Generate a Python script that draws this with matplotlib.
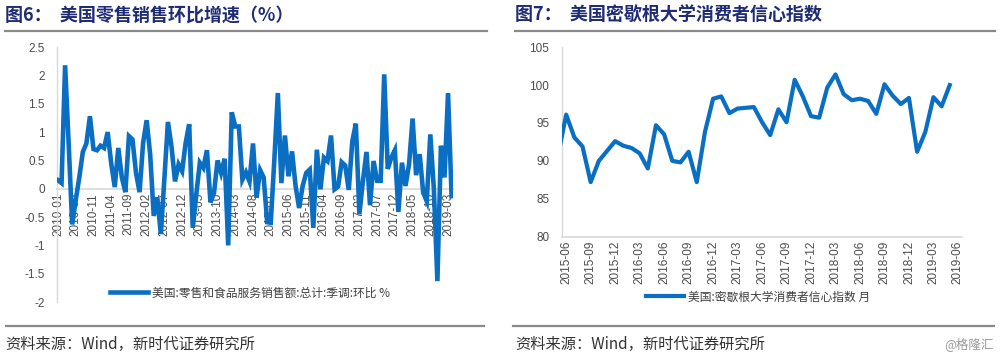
import numpy as np
import pandas as pd
import matplotlib
matplotlib.use('Agg')
import matplotlib.pyplot as plt
from matplotlib.lines import Line2D

plt.rcParams['font.family'] = ['Liberation Sans', 'Noto Sans CJK SC', 'DejaVu Sans']

# US retail & food services sales, m/m % (2010-01 .. 2019-04)
retail_start = '2010-01'
retail_mom = [0.15, 0.1, 2.18, 0.8, -0.63, -0.2, 0.2, 0.65, 0.8, 1.28,
              0.7, 0.68, 0.76, 0.72, 1.0, 0.45, 0.03, 0.72, 0.2, -0.06,
              0.93, 0.87, 0.28, -0.06, 0.81, 1.21, 0.6, -0.48, -0.15, -0.8,
              0.18, 1.18, 0.75, 0.13, 0.43, 0.31, 0.81, 1.14, -0.69, -0.1,
              0.46, 0.37, 0.68, -0.24, -0.07, 0.5, 0.28, 0.53, -1.0, 1.35,
              1.1, 1.1, 0.16, 0.29, 0.13, 0.8, -0.16, 0.33, 0.2, -0.59,
              -0.6, 0.5, 1.69, 0.1, 0.94, 0.22, 0.66, 0.05, -0.34, 0.05,
              0.28, 0.34, -0.69, 0.69, -0.01, 0.55, 0.49, 0.94, -0.01, 0.04,
              0.47, 0.41, -0.02, 0.84, 1.15, -0.45, 0.14, 0.65, -0.29, 0.49,
              0.14, 0.14, 2.02, 0.35, 0.55, 0.68, -0.41, 0.46, 0.05, 0.43,
              1.24, 0.24, 0.61, -0.07, -0.22, 0.96, 0.0, -1.63, 0.76, 0.2,
              1.69, -0.13]
retail_label = '美国:零售和食品服务销售额:总计:季调:环比 %'

# University of Michigan consumer sentiment (2015-05 .. 2019-05)
umich_start = '2015-05'
umich = [90.7, 96.1, 93.1, 91.9, 87.2, 90.0, 91.3, 92.6,
         92.0, 91.7, 91.0, 89.0, 94.7, 93.5, 90.0, 89.8, 91.2, 87.2, 93.8, 98.2,
         98.5, 96.3, 96.9, 97.0, 97.1, 95.1, 93.4, 96.8, 95.1, 100.7, 98.5, 95.9,
         95.7, 99.7, 101.4, 98.8, 98.0, 98.2, 97.9, 96.2, 100.1, 98.6, 97.5, 98.3,
         91.2, 93.8, 98.4, 97.2, 100.0]
umich_label = '美国:密歇根大学消费者信心指数 月'

title_left = '图6：  美国零售销售环比增速（%）'
title_right = '图7：  美国密歇根大学消费者信心指数'
source = '资料来源：Wind，新时代证券研究所'

blue = '#0a6fc2'
grey_axis = '#d9d9d9'
tick_col = '#4d4d4d'
cjk = ['Noto Sans CJK SC', 'DejaVu Sans']

fig = plt.figure(figsize=(10, 3.6), dpi=100)

# ---- left chart
ax1 = fig.add_axes([0.0573, 0.161, 0.3957, 0.708])
ax1.spines['bottom'].set_position(('data', 0))
x1 = np.arange(len(retail_mom))
months1 = pd.period_range(retail_start, periods=len(retail_mom) + 2, freq='M')
ax1.plot(x1, retail_mom, color=blue, lw=3.3, solid_joinstyle='miter', zorder=3)
ax1.set_xlim(-0.2, 111.4)
ax1.set_ylim(-2, 2.5)
ax1.set_yticks(np.arange(-2, 2.51, 0.5))
ax1.set_yticklabels(['%g' % v for v in np.arange(-2, 2.51, 0.5)])
t1 = np.arange(0, len(retail_mom), 5)
ax1.set_xticks(t1)
ax1.set_xticklabels([str(months1[i]) for i in t1], rotation=90)
ax1.legend([Line2D([], [], color=blue, lw=3.3)], [retail_label], frameon=False,
           loc='center', bbox_to_anchor=(0.25, 0.186), bbox_transform=fig.transFigure,
           handlelength=3.2, handletextpad=0.3, prop={'family': cjk, 'size': 8.5},
           labelcolor='#404040')

# ---- right chart
ax2 = fig.add_axes([0.5617, 0.3425, 0.4003, 0.5265])
x2 = np.arange(len(umich))
months2 = pd.period_range(umich_start, periods=len(umich) + 2, freq='M')
ax2.plot(x2, umich, color=blue, lw=3.0, zorder=3)
ax2.set_xlim(0.45, 49.5)
ax2.set_ylim(80, 105)
ax2.set_yticks(np.arange(80, 106, 5))
t2 = np.arange(1, len(umich) + 1, 3)
ax2.set_xticks(t2)
ax2.set_xticklabels([str(months2[i]) for i in t2], rotation=90)
ax2.legend([Line2D([], [], color=blue, lw=3.0)], [umich_label], frameon=False,
           loc='center', bbox_to_anchor=(0.758, 0.175), bbox_transform=fig.transFigure,
           handlelength=3.2, handletextpad=0.3, prop={'family': cjk, 'size': 8.5},
           labelcolor='#404040')

for ax in (ax1, ax2):
    ax.spines['top'].set_visible(False)
    ax.spines['right'].set_visible(False)
    ax.spines['left'].set_color(grey_axis)
    ax.spines['bottom'].set_color(grey_axis)
    ax.spines['left'].set_linewidth(1)
    ax.spines['bottom'].set_linewidth(1.2)
    ax.tick_params(length=0, labelsize=8.5, labelcolor=tick_col)
    ax.tick_params(axis='x', pad=3)
    ax.tick_params(axis='y', pad=9)

# ---- titles, rules and source
for xt, txt in ((0.005, title_left), (0.515, title_right)):
    fig.text(xt, 1 - 15 / 360, txt, family=cjk, fontsize=13, weight='bold',
             color='#1f2c74', va='center', ha='left')
for x0, x1_ in ((0.005, 0.487), (0.515, 0.995)):
    fig.add_artist(Line2D([x0, x1_], [1 - 31 / 360] * 2, color='#8a8a8a', lw=1.6))
for x0, x1_ in ((0.006, 0.484), (0.513, 0.994)):
    fig.add_artist(Line2D([x0, x1_], [1 - 326 / 360] * 2, color='#8a8a8a', lw=1.6))
for xt in (0.005, 0.515):
    fig.text(xt, 1 - 344 / 360, source, family=cjk, fontsize=11, color='#333333',
             va='center', ha='left')
fig.text(0.994, 1 - 344 / 360, '@格隆汇', family=cjk, fontsize=9, color='#9a9a9a',
         va='center', ha='right')

fig.savefig('out.png', dpi=100)
